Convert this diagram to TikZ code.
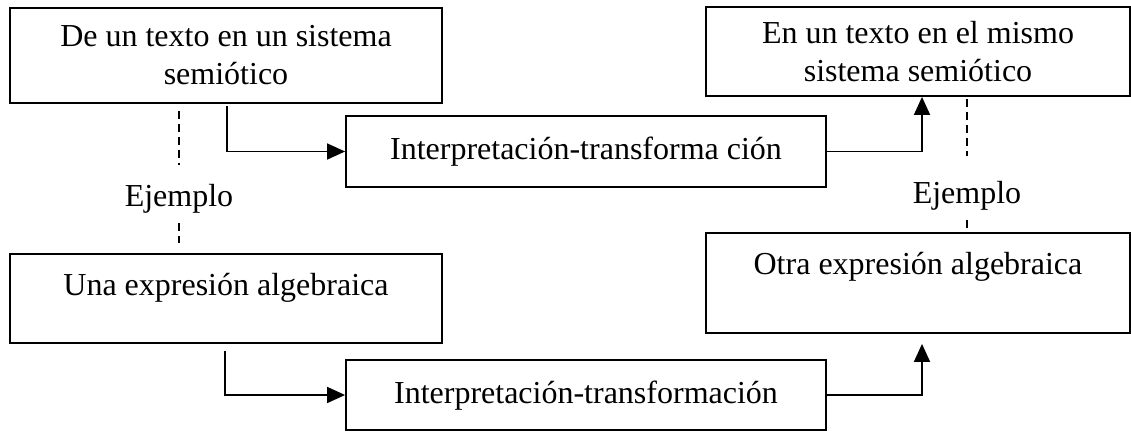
\documentclass[tikz,border=0pt]{standalone}
\usepackage{fontspec}
\setmainfont{Liberation Serif}
\usetikzlibrary{arrows.meta}

\begin{document}
\begin{tikzpicture}[x=0.5pt,y=-0.5pt,
	caja/.style={draw,line width=0.9pt,inner sep=0pt,align=center,font=\fontsize{16}{19}\selectfont},
	flecha/.style={line width=0.8pt,-{Triangle[length=9pt,width=8pt]}},
	guia/.style={line width=0.7pt,dash pattern=on 4pt off 2.5pt},
	rotulo/.style={inner sep=0pt,anchor=base,font=\fontsize{16}{19}\selectfont}]
		\useasboundingbox (0,0) rectangle (1131,434);
		\node[caja,minimum width=216pt,minimum height=47.5pt] (orig) at (226,55.5) {De un texto en un sistema\\semiótico};
		\node[caja,minimum width=240pt,minimum height=35.5pt,text height=12pt,text depth=4pt] (trans1) at (586,151.5) {Interpretación-transforma ción};
		\node[caja,minimum width=212pt,minimum height=44.5pt] (dest) at (918,51.5) {En un texto en el mismo\\sistema semiótico};
		\node[caja,minimum width=216pt,minimum height=44.5pt,text height=12pt,text depth=15.5pt] (alg) at (226,298.5) {Una expresión algebraica};
		\node[caja,minimum width=212pt,minimum height=50pt,text height=12pt,text depth=21pt] (otra) at (918,283) {Otra expresión algebraica};
		\node[caja,minimum width=240pt,minimum height=35pt,text height=12pt,text depth=4pt] (trans2) at (586,395) {Interpretación-transformación};
		\node[rotulo] (ej1) at (179,206) {Ejemplo};
		\node[rotulo] (ej2) at (967,203) {Ejemplo};
		\draw[flecha] ([xshift=0.5pt,yshift=-1pt]orig.south) |- (trans1.west);
		\draw[flecha] (trans1.east) -| ([xshift=2pt]dest.south);
		\draw[flecha] ([xshift=-0.5pt,yshift=-3.5pt]alg.south) |- (trans2.west);
		\draw[flecha] (trans2.east) -| ([xshift=2pt,yshift=-5pt]otra.south);
		\draw[guia] ([yshift=-3.5pt]orig.south -| ej1) -- ([yshift=9pt]ej1.north);
		\draw[guia] ([yshift=-5pt]ej1.south) -- ([yshift=5pt]alg.north -| ej1);
		\draw[guia] ([yshift=-1pt]dest.south -| ej2) -- ([yshift=12pt]ej2.north);
		\draw[guia] ([yshift=-5pt]ej2.south) -- (otra.north -| ej2);
\end{tikzpicture}
\end{document}
